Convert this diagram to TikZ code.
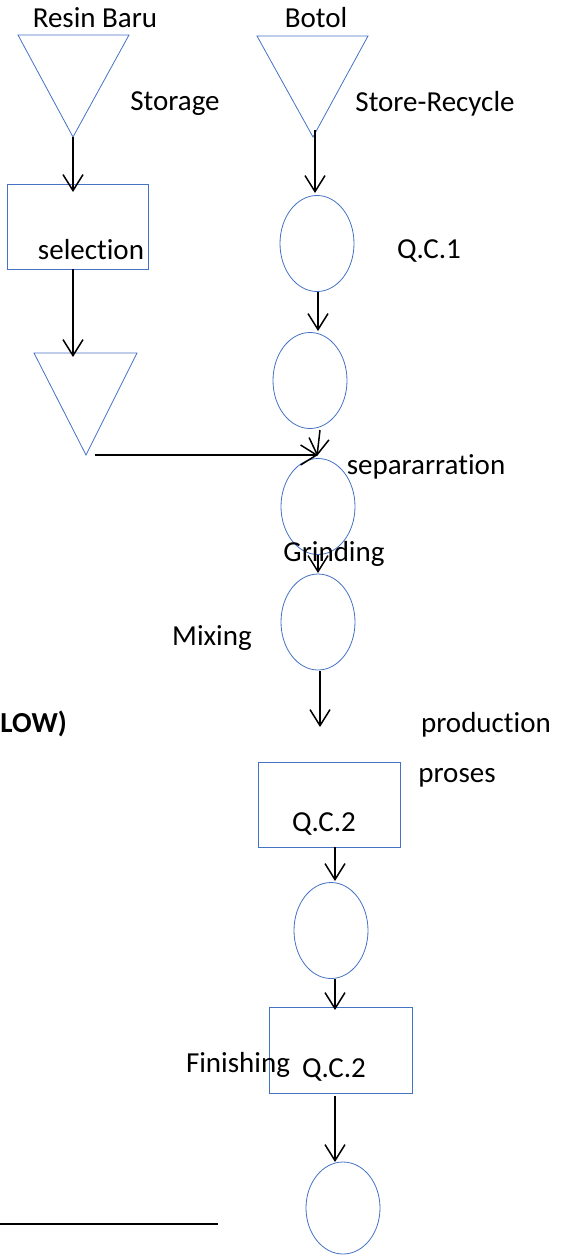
\documentclass[tikz,border=0pt]{standalone}
\usepackage{fontspec}
\setmainfont[Ligatures=NoCommon]{Carlito}
\usetikzlibrary{arrows.meta,shapes.geometric}
\definecolor{shapeblue}{RGB}{68,114,196}
\tikzset{
  lbl/.style={inner sep=0pt, font=\fontsize{29}{34}\selectfont},
  ell/.style={ellipse, draw=shapeblue, line width=0.8pt, inner sep=0pt, minimum width=74pt, minimum height=96pt},
  boxnode/.style={rectangle, draw=shapeblue, line width=0.9pt, inner sep=0pt},
  tri/.style={draw=shapeblue, line width=0.8pt},
  arr/.style={draw=black, line width=1.5pt, -{Straight Barb[length=16pt,width=20pt]}}
}
\begin{document}
\begin{tikzpicture}[x=1pt,y=-1pt]
\useasboundingbox (0,0) rectangle (560,1255);
% triangles
\draw[tri] (18,35) -- (129,35) -- (73,137) -- cycle;
\coordinate (t1) at (73,137);
\draw[tri] (257,36) -- (368,36) -- (313,137) -- cycle;
\coordinate (t3) at (315,130);
\draw[tri] (34,353) -- (137,353) -- (86,455) -- cycle;
\coordinate (t2) at (95,455);
% boxes
\node[boxnode, minimum width=141pt, minimum height=85pt] (sel) at (77.5,226.5) {};
\node[boxnode, minimum width=142pt, minimum height=85pt] (prod) at (329,804.5) {};
\node[boxnode, minimum width=143pt, minimum height=86pt] (fin) at (340.5,1050) {};
% ellipses
\node[ell] (e1) at (317,243.5) {};
\node[ell] (e2) at (310,380.5) {};
\node[ell] (e3) at (318,506.5) {};
\node[ell] (e4) at (318,622) {};
\node[ell] (e5) at (331,930.5) {};
\node[ell, minimum height=92pt] (e6) at (343,1208) {};
% arrow coordinates
\coordinate (a1) at (73,192);
\coordinate (a2s) at (73,269);
\coordinate (a2) at (73,357);
\coordinate (a3) at (315,193);
\coordinate (a4s) at (318,292);
\coordinate (a4) at (318,331);
\coordinate (a5s) at (320,430);
\coordinate (a5) at (317,456);
\coordinate (a6) at (318,455);
\coordinate (a7s) at (318,555);
\coordinate (a7) at (318,573);
\coordinate (a8s) at (320,671);
\coordinate (a8) at (320,727);
\coordinate (a9s) at (335,847);
\coordinate (a9) at (335,881);
\coordinate (a10s) at (335,979);
\coordinate (a10) at (335,1010);
\coordinate (a11s) at (335,1096);
\coordinate (a11) at (335,1162);
% arrows
\draw[arr] (t1) -- (a1);
\draw[arr] (a2s) -- (a2);
\draw[arr] (t3) -- (a3);
\draw[arr] (a4s) -- (a4);
\draw[arr] (a5s) -- (a5);
\draw[arr] (t2) -- (a6);
\draw[arr] (a7s) -- (a7);
\draw[arr] (a8s) -- (a8);
\draw[arr] (a9s) -- (a9);
\draw[arr] (a10s) -- (a10);
\draw[arr] (a11s) -- (a11);
% line
\coordinate (l0) at (0,1224);
\coordinate (l1) at (218,1224);
\draw[line width=1.5pt] (l0) -- (l1);
% labels
\node[lbl] (resin) at (95,18) {Resin Baru};
\node[lbl] (storage) at (175,104) {Storage};
\node[lbl] (botol) at (316,18) {Botol};
\node[lbl] (store) at (435,104) {Store-Recycle};
\node[lbl] (selection) at (91,250) {selection};
\node[lbl] (qc1) at (429,251) {Q.C.1};
\node[lbl] (sep) at (426,467) {separarration};
\node[lbl] (grind) at (334,554) {Grinding};
\node[lbl] (mix) at (212,638) {Mixing};
\node[lbl, anchor=east, font=\fontsize{29}{34}\selectfont\bfseries] (flow) at (67,724) {LOW)};
\node[lbl] (production) at (486,725) {production};
\node[lbl] (proses) at (457,778) {proses};
\node[lbl] (qc2a) at (324,824) {Q.C.2};
\node[lbl] (finishing) at (238,1065) {Finishing};
\node[lbl] (qc2b) at (334,1070) {Q.C.2};
\end{tikzpicture}
\end{document}
